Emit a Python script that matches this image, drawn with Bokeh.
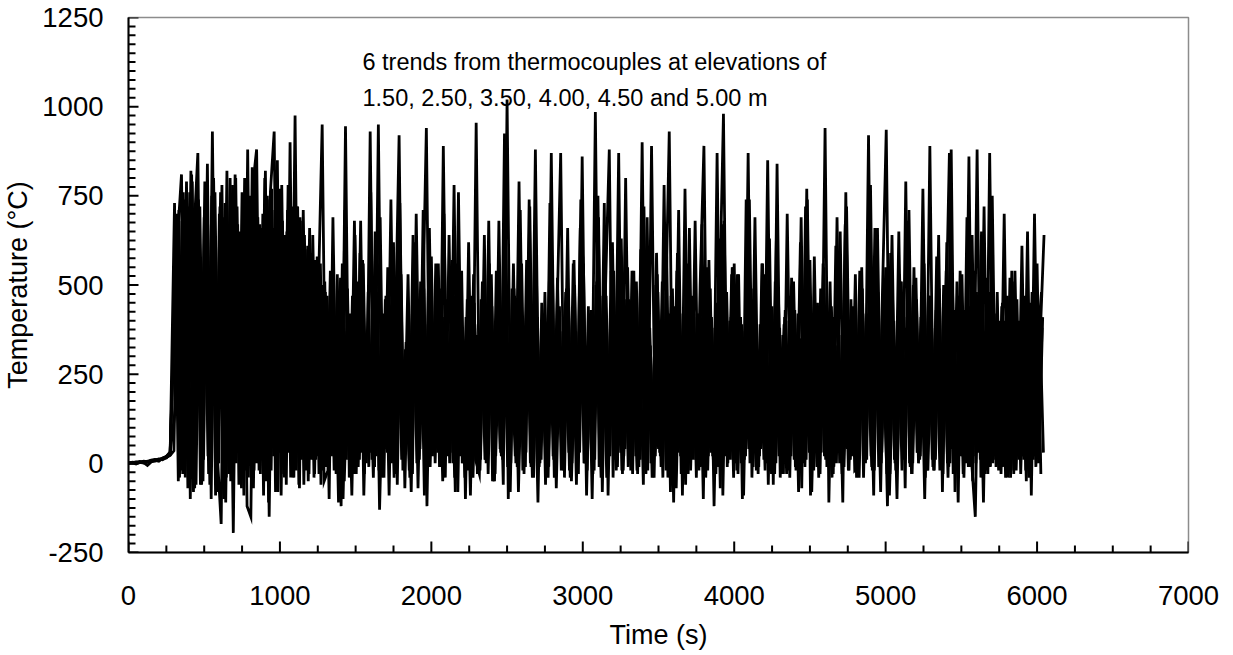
import numpy as np
from bokeh.plotting import figure
from bokeh.models import Range1d, SingleIntervalTicker, Label, PrintfTickFormatter
from bokeh.embed import file_html
from bokeh.resources import INLINE

# ---------------- data ----------------
elevations_m = ["1.50", "2.50", "3.50", "4.00", "4.50", "5.00"]

# pre-fire readings, every 25 s from 0 to 275 s
pre_time_s = [0, 25, 50, 75, 100, 125, 150, 175, 200, 225, 250, 275]
pre_T = [
    [0, 2, 1, 4, 3, 6, 5, 9, 12, 10, 16, 22],
    [1, 0, 3, 2, 5, 4, 8, 7, 11, 14, 18, 25],
    [0, 1, -2, 3, 1, 5, 7, 6, 10, 13, 15, 28],
    [2, 1, 0, 2, 4, 3, 6, 10, 9, 12, 20, 30],
    [0, 3, 2, 5, 2, -6, 4, 8, 6, 14, 17, 24],
    [1, 2, 4, 3, 6, 5, 9, 11, 8, 15, 19, 32],
]

# fire phase: one reading every 25 s from 300 s (+ per-logger offset)
fire_start_s = 300
fire_step_s = 25
sample_offsets_s = [0, 4, 8, 12, 17, 21]

T_150 = [
    35, 640, 810, -40, 720, 10, 780, -60, 690, 20, 750, -90, 700, 0, 820, -50, 660, 30, 760, -20,
    730, -70, 690, 10, 800, -110, 640, 20, 770, -30, 710, 40, 975, -60, 680, 0, 590, -40, 520, 10,
    480, -100, 690, 30, 520, -50, 310, -90, 450, 10, 560, 20, 760, -10, 950, -40, 470, 10, 620, -60,
    530, -70, 420, -30, 700, 40, 490, -20, 580, 0, 380, -50, 460, 30, 780, -80, 540, -100, 430, -40,
    360, 10, 640, -30, 440, 20, 390, -60, 1020, 0, 470, -80, 330, 30, 720, -40, 410, 10, 480, -10,
    520, -70, 370, 20, 660, -50, 310, 40, 580, -90, 420, -20, 750, 10, 490, 880, -40, 400, 30, 460,
    -10, 540, 20, 380, -60, 690, 0, 330, 40, 510, -20, 420, -110, 590, -30, 770, 20, 450, -40, 500,
    890, -20, 410, 30, 630, -90, 480, 10, 560, -30, 390, 20, 740, -10, 320, 40, 530, -60, 440, 0,
    380, -30, 700, 20, 430, -80, 360, 10, 570, -20, 450, 30, 940, -110, 410, 0, 650, -10, 340, 20,
    530, -40, 420, 10, 780, -20, 480, 30, 550, -90, 310, -100, 460, 20, 680, -30, 520, 10, 350, -20,
    470, 20, 640, -80, 540, 0, 430, -20, 360, 30, 860, -50, 480, 10, 720, -30, 560, 20, 340, -10,
    450, -40, 380, 20, 610, -20, 420, 10, 560, -30,
]
T_250 = [
    730, -50, 680, 20, 760, -80, 640, 10, 790, -30, 930, 0, 720, -100, 670, 30, 810, -60, 700, 40,
    750, -20, 690, 10, 820, -150, 660, 30, 740, -40, 780, 0, 630, -70, 710, 20, 560, -30, 480, 950,
    -10, 410, 20, 530, -120, 710, 10, 470, -30, 590, -90, 340, 30, 650, -20, 420, 40, 380, -40, 550,
    10, 320, -20, 640, 0, 510, -90, 390, 20, 560, -10, 890, 30, 350, -40, 760, 0, 410, 20, 530,
    -30, 460, 10, 680, -50, 540, 40, 420, -10, 300, 20, 790, -20, 570, 0, 380, -110, 450, -60, 510,
    20, 400, 870, -40, 490, 0, 370, 30, 560, -20, 430, 10, 690, -80, 470, 20, 540, -10, 630, 40,
    460, -30, 510, 10, 720, -20, 890, 20, 400, -40, 580, -80, 440, 30, 320, -60, 660, 10, 420, -10,
    550, 20, 380, -30, 470, 980, -10, 410, 40, 530, -100, 740, 0, 490, 20, 330, -20, 570, 10, 640,
    -40, 390, 30, 520, -10, 350, 20, 770, -90, 580, 0, 410, 10, 340, -30, 690, 40, 430, -20, 370,
    10, 540, -40, 420, 20, 660, -10, 480, 935, -30, 400, 30, 510, -70, 710, 0, 460, 20, 560, -20,
    380, 10, 490, -30, 620, 40, 350, -110, 530, 0, 440, 20, 880, -40, 370, 10, 750, -10, 400, 30,
    470, -20, 540, 10, 390, -50, 450, 20, 340, 480,
]
T_350 = [
    150, 710, -30, 790, -100, 650, 870, -60, 730, 20, 680, -80, 760, 10, 620, -40, 800, 0, 700, -120,
    -150, 780, 0, 660, -50, 740, 20, 850, -90, 640, 30, 720, -20, 690, -60, 610, 10, 570, -30, 500,
    30, 540, -20, 420, 10, 945, -40, 460, 20, 680, -30, 480, 10, 520, -130, 300, 30, 740, 0, 420,
    20, 340, -40, 620, 10, 380, -20, 550, 30, 410, -10, 700, 40, 470, -80, 520, 0, 360, -90, 450,
    -30, 400, 10, 560, -20, 310, 30, 925, -100, 490, 0, 650, 20, 540, -10, 430, 40, 350, -30, 730,
    10, 520, -20, 360, 30, 440, -60, 660, 0, 330, 20, 985, -10, 470, -40, 390, 10, 560, -20, 800,
    30, 360, -20, 600, 10, 440, -40, 500, 30, 320, -10, 470, 20, 710, -90, 540, 0, 410, 40, 350,
    -10, 570, 20, 450, -70, 680, 0, 530, 40, 310, -20, 480, 10, 420, -30, 560, 20, 630, -60, 840,
    -30, 410, 10, 490, -20, 350, 30, 740, 0, 440, -40, 380, 20, 510, -10, 330, 40, 670, -20, 400,
    -40, 520, 20, 380, -10, 460, 50, 310, -30, 590, 10, 430, -20, 790, 0, 500, 30, 410, -100, 470,
    10, 430, -20, 500, 0, 880, -80, 470, 20, 360, -10, 540, 30, 650, -30, 480, 0, 420, 20, 700,
    -40, 540, -10, 400, 20, 460, -30, 700, 30, 380,
]
T_400 = [
    480, -40, 760, 30, 820, -70, 740, 10, 690, -60, 800, 20, -170, 730, -30, 780, 0, 650, -90, 880,
    -60, 830, -20, 700, 40, 760, 930, -80, 780, 0, 660, -40, 720, 20, 640, -50, 590, 10, 540, -20,
    470, 20, 380, -110, 560, 10, 420, -30, 510, 30, 340, -10, 490, 20, 690, -40, 550, 0, 360, 920,
    -20, 340, 20, 500, -70, 440, 0, 660, 40, 530, -10, 410, 20, 570, -40, 320, 10, 460, -30, 390,
    30, 510, 0, 450, -50, 350, 20, 540, -20, 420, 10, 710, -30, 490, 40, 880, -10, 410, 20, 530,
    -40, 370, 10, 480, -20, 560, 30, 740, 0, 440, -100, 500, 20, 390, -10, 540, 40, 870, -30, 420,
    10, 540, -30, 420, 40, 370, -10, 590, 20, 780, -40, 480, 0, 410, 30, 550, -20, 360, 10, 670,
    -40, 390, 10, 870, -20, 500, 30, 550, 0, 340, -90, 470, 20, 690, -10, 560, 40, 320, -30, 500,
    10, 430, -20, 360, 30, 620, 0, 450, -80, 380, 20, 560, -10, 410, 40, 330, -30, 760, 10, 440,
    -20, 530, 10, 920, -20, 430, 30, 360, -120, 520, 0, 650, 20, 380, -10, 550, 30, 400, -40, 470,
    -10, 580, 20, 340, -40, 470, 10, 390, -30, 690, 0, 430, 40, 360, -20, 870, 10, 480, -30, 400,
    30, 510, -20, 380, 10, 650, -90, 530, 0, 410,
]
T_450 = [
    620, 10, 740, -70, 810, 20, 700, -50, 760, -30, 690, 0, 780, -110, 650, -195, 720, 30, 800, -40,
    830, 0, 670, -90, 750, -20, 710, 30, 680, -60, 900, -40, 720, 10, 600, -30, 640, 20, 560, -50,
    -20, 500, 10, 430, -100, 370, 20, 680, -10, 410, 30, 330, -40, 480, 0, 390, 40, 560, -30, 730,
    10, 310, -80, 520, 20, 400, 940, -10, 370, 30, 490, -40, 640, 0, 560, 20, 340, -20, 470, 10,
    -30, 450, 10, 310, -50, 520, 20, 620, 0, 560, -10, 360, 30, 490, -40, 570, 0, 420, 20, 870,
    -10, 360, 30, 490, -40, 570, 0, 420, 20, 340, -30, 510, 10, 730, -90, 460, 40, 530, -20, 350,
    -20, 470, 10, 900, -30, 380, 40, 530, -10, 310, 20, 490, -70, 420, 0, 560, 30, 680, -20, 440,
    20, 490, -120, 420, 0, 360, 30, 550, -20, 410, 10, 870, -40, 380, 20, 520, 0, 340, -30, 470,
    10, 400, -40, 510, 20, 690, -10, 470, 40, 380, -30, 550, 0, 440, 20, 360, -110, 720, 10, 420,
    -30, 550, 0, 440, 20, 360, -80, 500, 10, 640, -20, 530, 30, 410, -10, 470, 0, 340, 20, 890,
    -20, 430, 30, 370, -10, 480, 20, 540, -40, 390, 10, -150, 460, 30, 520, -10, 350, 20, 440, -40,
    390, 10, 460, -30, 350, 20, 480, -10, 410, 30,
]
T_500 = [
    700, -20, 650, 40, 790, -60, 720, 10, 840, -100, 760, 0, 690, -40, 800, 20, 670, -70, 740, 10,
    780, 880, -30, 690, 20, 770, -80, 730, 0, 650, -40, 700, 30, 610, -20, 660, 10, 580, -60, 510,
    20, 430, -30, 360, 10, 490, -20, 640, 40, 570, 0, 930, -10, 330, 20, 460, -90, 510, 0, 380,
    30, 530, -30, 420, 10, 710, -120, 490, 20, 560, -10, 410, 0, 470, 30, 340, -40, 620, 10, 955,
    -20, 380, 30, 530, -30, 680, 10, 350, -80, 490, 20, 560, -10, 740, 0, 410, 30, 340, -40, 520,
    10, 440, -20, 370, 20, 500, -30, 860, 0, 410, 30, 340, -40, 520, 10, 620, -20, 380, 20, 550,
    0, 410, -10, 700, 30, 330, -40, 480, 0, 390, 930, -20, 540, 20, 360, -30, 470, 10, 420, -100,
    550, 30, 310, -10, 670, 20, 400, -40, 530, 0, 370, 40, 460, -20, 390, 10, 850, -30, 510, 20,
    360, -30, 470, 10, 420, -70, 720, 30, 310, -10, 490, 20, 400, -40, 610, 0, 370, 40, 460, -20,
    -10, 490, 20, 400, -90, 660, 0, 370, 40, 460, -20, 510, 10, 350, -30, 440, 20, 770, -10, 380,
    -20, 470, 10, 350, 870, -30, 510, 20, 430, -10, 640, 0, 390, -110, 480, 30, 340, -20, 450, 10,
    520, -30, 390, 20, 470, -40, 410, 0, 360, 640,
]
fire_T = [T_150, T_250, T_350, T_400, T_450, T_500]

x_tick_values = list(range(0, 7001, 250))
y_tick_values = list(range(-250, 1251, 25))

annotation_lines = [
    "6 trends from thermocouples at elevations of",
    "1.50, 2.50, 3.50, 4.00, 4.50 and 5.00 m",
]

# ---------------- figure ----------------
FONT = "Liberation Sans"

p = figure(
    width=1233, height=655,
    x_range=Range1d(0, 7000), y_range=Range1d(-250, 1250),
    output_backend="svg", toolbar_location=None,
    min_border_left=128, min_border_right=45,
    min_border_top=17, min_border_bottom=103,
)
p.background_fill_color = "white"
p.border_fill_color = "white"
p.outline_line_color = "#8c8c8c"
p.outline_line_width = 1.5
p.xgrid.visible = False
p.ygrid.visible = False

for k in range(6):
    n = len(fire_T[k])
    t_fire = fire_start_s + sample_offsets_s[k] + fire_step_s * np.arange(n)
    t = np.concatenate([np.array(pre_time_s, dtype=float), t_fire])
    y = np.concatenate([np.array(pre_T[k], dtype=float), np.array(fire_T[k], dtype=float)])
    p.line(t, y, line_color="black", line_width=2.8, line_join="miter")

# inward tick marks (drawn as dashes centred on the axis lines, clipped by the frame)
xt = np.array(x_tick_values)
x_major = (xt % 1000 == 0)
p.scatter(xt[x_major], np.full(x_major.sum(), -250.0), marker="dash", size=22, angle=np.pi / 2,
          line_color="black", line_width=2)
p.scatter(xt[~x_major], np.full((~x_major).sum(), -250.0), marker="dash", size=14, angle=np.pi / 2,
          line_color="black", line_width=2)
yt = np.array(y_tick_values)
y_major = (yt % 250 == 0)
p.scatter(np.zeros(y_major.sum()), yt[y_major], marker="dash", size=20,
          line_color="black", line_width=2)
p.scatter(np.zeros((~y_major).sum()), yt[~y_major], marker="dash", size=14,
          line_color="black", line_width=2)

# axes
p.xaxis.ticker = SingleIntervalTicker(interval=1000, num_minor_ticks=4)
p.yaxis.ticker = SingleIntervalTicker(interval=250, num_minor_ticks=10)
p.xaxis.formatter = PrintfTickFormatter(format="%d")
p.yaxis.formatter = PrintfTickFormatter(format="%d")

for ax in (p.xaxis[0], p.yaxis[0]):
    ax.axis_line_color = "black"
    ax.axis_line_width = 2
    ax.major_tick_line_color = None
    ax.minor_tick_line_color = None
    ax.major_tick_out = 0
    ax.major_tick_in = 0
    ax.minor_tick_out = 0
    ax.minor_tick_in = 0
    ax.major_label_text_font = FONT
    ax.major_label_text_font_size = "27.5px"
    ax.major_label_text_color = "black"
    ax.axis_label_text_font = FONT
    ax.axis_label_text_font_size = "27px"
    ax.axis_label_text_font_style = "normal"
    ax.axis_label_text_color = "black"

p.xaxis.axis_label = "Time (s)"
p.yaxis.axis_label = "Temperature (°C)"
p.xaxis.major_label_standoff = 33
p.yaxis.major_label_standoff = 25
p.xaxis.axis_label_standoff = 12
p.yaxis.axis_label_standoff = 6

# annotation
ann_x = 1545
ann_y = [1124, 1023]
for txt, yy in zip(annotation_lines, ann_y):
    p.add_layout(Label(x=ann_x, y=yy, text=txt, text_font=FONT,
                       text_font_size="23.5px", text_color="black",
                       text_baseline="alphabetic", text_align="left"))

open("out.html", "w").write(file_html(p, INLINE))
